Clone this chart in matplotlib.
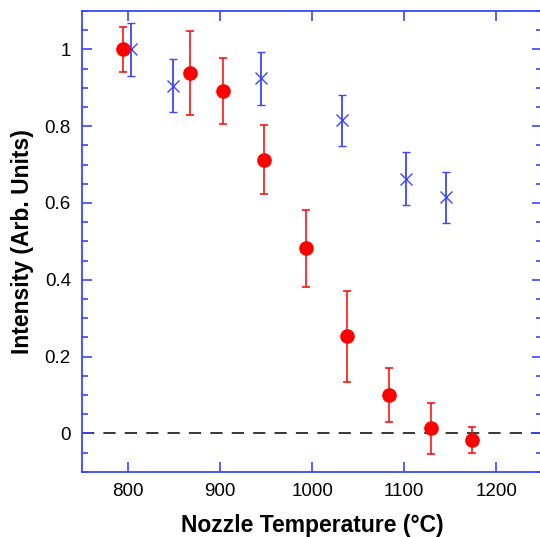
import numpy as np
import matplotlib.pyplot as plt
from matplotlib.ticker import MultipleLocator

plt.rcParams["font.family"] = ["Liberation Sans", "DejaVu Sans"]

# red series (filled circles)
temp_red = [795, 867, 903, 948, 993, 1038, 1084, 1129, 1174]
int_red = [1.0, 0.939, 0.892, 0.713, 0.482, 0.253, 0.10, 0.013, -0.017]
err_red = [0.058, 0.11, 0.085, 0.09, 0.10, 0.118, 0.07, 0.067, 0.033]

# blue series (crosses)
temp_blue = [803, 849, 944, 1033, 1102, 1146]
int_blue = [1.0, 0.905, 0.925, 0.815, 0.663, 0.615]
err_blue = [0.07, 0.069, 0.069, 0.067, 0.069, 0.066]

blue = "#3c46ff"
red = "#ff0000"

fig = plt.figure(figsize=(5.4, 5.37), dpi=100)
# right spine sits just past the image edge, as in the original
ax = fig.add_axes([0.1519, 0.1215, 0.852, 0.858])

ax.axhline(0, color="black", linestyle=(0, (8, 6)), linewidth=1.1, zorder=1)

ax.errorbar(temp_red, int_red, yerr=err_red, fmt="o", color=red, ms=9.5,
            capsize=3, elinewidth=1.1, capthick=1.1, zorder=3)
ax.errorbar(temp_blue, int_blue, yerr=err_blue, fmt="x", color=blue, ms=9,
            mew=1.0, capsize=3, elinewidth=1.3, capthick=1.3, zorder=2)

ax.set_xlim(750, 1250)
ax.set_ylim(-0.1, 1.1)
ax.xaxis.set_major_locator(MultipleLocator(100))
ax.yaxis.set_minor_locator(MultipleLocator(0.05))
ax.set_yticks([0, 0.2, 0.4, 0.6, 0.8, 1.0])
ax.set_yticklabels(["0", "0.2", "0.4", "0.6", "0.8", "1"])

for s in ax.spines.values():
    s.set_color(blue)
    s.set_linewidth(1.3)

ax.tick_params(which="both", direction="in", color=blue, top=True, right=True,
               labelsize=13.5, labelcolor="black", width=1.2)
ax.tick_params(which="major", length=7, pad=8)
ax.tick_params(which="minor", length=4)

ax.set_xlabel("Nozzle Temperature (°C)", fontsize=16.5, fontweight="bold", labelpad=10)
ax.set_ylabel("Intensity (Arb. Units)", fontsize=16.5, fontweight="bold", labelpad=8)

fig.savefig("out.png", dpi=100)
